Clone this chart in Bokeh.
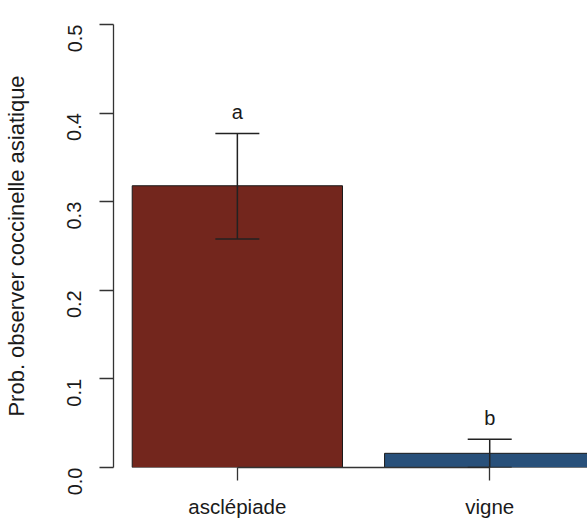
import math
import numpy as np
from bokeh.plotting import figure
from bokeh.models import (ColumnDataSource, Range1d, FixedTicker, PrintfTickFormatter,
                          Whisker, TeeHead)
from bokeh.core.properties import value
from bokeh.embed import file_html
from bokeh.resources import INLINE

# ---- data ----
categories = ["asclépiade", "vigne"]
means = [0.318, 0.016]
upper = [0.377, 0.032]
lower = [0.258, 0.0]
letters = ["a", "b"]
bar_colors = ["#73261D", "#28507A"]
y_ticks = [0.0, 0.1, 0.2, 0.3, 0.4, 0.5]
y_title = "Prob. observer coccinelle asiatique"

# R barplot layout: width 1, space 0.2
bar_w = 1.0
space = 0.2
pos = [round(space + i * (bar_w + space) + bar_w / 2, 6) for i in range(len(categories))]

src = ColumnDataSource(dict(x=pos, top=means, upper=upper, lower=lower,
                            letters=letters, color=bar_colors))

FONT = "Liberation Sans"
TXT = "#1a1a1a"

p = figure(width=587, height=520, output_backend="svg", toolbar_location=None,
           x_range=Range1d(0.111, 2.365), y_range=Range1d(0.0, 0.5),
           min_border_left=112, min_border_right=0, min_border_top=24,
           min_border_bottom=53)
p.outline_line_color = None
p.xgrid.visible = False
p.ygrid.visible = False
p.background_fill_color = "white"
p.border_fill_color = "white"

p.vbar(x="x", top="top", bottom=0, width=bar_w, source=src,
       fill_color="color", line_color="#1a1a1a", line_width=1)

wh = Whisker(base="x", upper="upper", lower="lower", source=src,
             line_color="#222222", line_width=1.5, level="overlay",
             upper_head=TeeHead(size=44, line_color="#222222", line_width=1.5),
             lower_head=TeeHead(size=44, line_color="#222222", line_width=1.5))
p.add_layout(wh)

p.text(x="x", y="upper", text="letters", source=src, y_offset=-21,
       text_align="center", text_baseline="middle",
       text_font=value(FONT), text_font_size="20px", text_color=TXT)

# x axis
xa = p.xaxis[0]
xa.ticker = FixedTicker(ticks=pos)
xa.major_label_overrides = {pos[i]: categories[i] for i in range(len(categories))}
xa.bounds = (pos[0], pos[-1])
xa.axis_line_color = "#333333"
xa.axis_line_width = 1.3
xa.major_tick_line_color = "#333333"
xa.major_tick_line_width = 1.3
xa.major_tick_out = 13
xa.major_tick_in = 0
xa.minor_tick_line_color = None
xa.major_label_standoff = 14
xa.major_label_text_font = FONT
xa.major_label_text_font_size = "20.5px"
xa.major_label_text_color = TXT

# y axis
ya = p.yaxis[0]
ya.ticker = FixedTicker(ticks=y_ticks)
ya.formatter = PrintfTickFormatter(format="%.1f")
ya.bounds = (y_ticks[0], y_ticks[-1])
ya.axis_line_color = "#333333"
ya.axis_line_width = 1.3
ya.major_tick_line_color = "#333333"
ya.major_tick_line_width = 1.3
ya.major_tick_out = 14
ya.major_tick_in = 0
ya.minor_tick_line_color = None
ya.major_label_orientation = math.pi / 2
ya.major_label_standoff = 25
ya.major_label_text_font = FONT
ya.major_label_text_font_size = "20px"
ya.major_label_text_color = TXT
ya.axis_label = y_title
ya.axis_label_text_font = FONT
ya.axis_label_text_font_style = "normal"
ya.axis_label_text_font_size = "22px"
ya.axis_label_text_color = TXT
ya.axis_label_standoff = 29

open("out.html", "w").write(file_html(p, INLINE))
